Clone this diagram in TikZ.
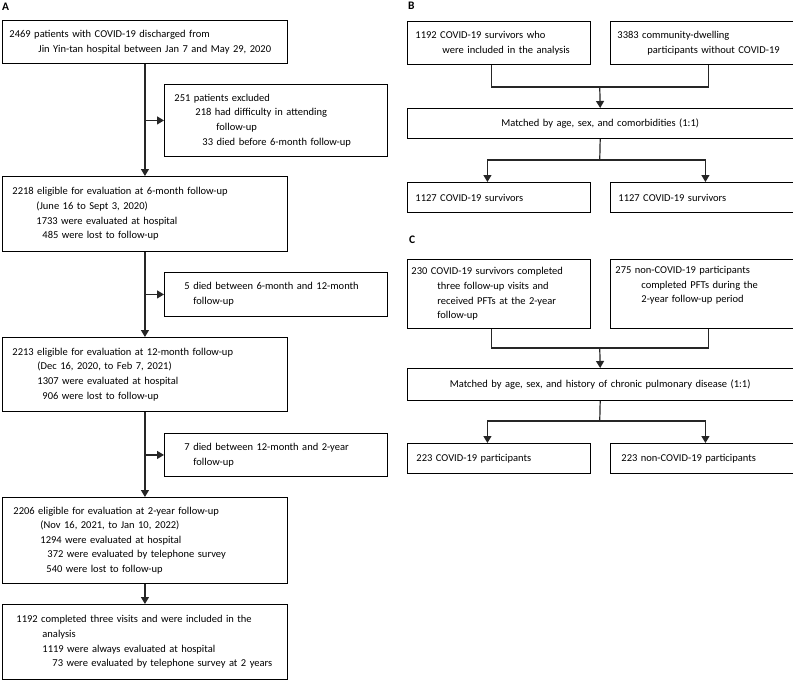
\documentclass[tikz,border=0pt]{standalone}
\usepackage{fontspec}
\setmainfont{Carlito}
\usetikzlibrary{arrows.meta}
\begin{document}
\begin{tikzpicture}[x=1pt,y=-1pt,
  box/.style={draw=black, line width=0.9pt, anchor=north west, inner xsep=0pt, inner ysep=0pt,
    align=left, font=\fontsize{10.5}{14.6}\selectfont},
  cbox/.style={draw=black, line width=0.9pt, anchor=north west, inner xsep=0pt, inner ysep=0pt,
    align=center, font=\fontsize{10.5}{14.6}\selectfont},
  line/.style={draw=black!85, line width=1.2pt},
  arr/.style={line, -{Triangle[length=7pt,width=8pt]}},
  lab/.style={anchor=north west, inner sep=0pt, font=\fontsize{11.5}{12}\selectfont\bfseries}
]
\useasboundingbox (0,0) rectangle (793,680);
\fill[white] (0,0) rectangle (793,680);

% Panel labels
\node[lab] (labA) at (2,3) {A};
\node[lab] (labB) at (408,2) {B};
\node[lab] (labC) at (409,236) {C};

% Panel A
\node[box, text width=285pt, minimum height=43pt] (a1) at (2,20)
  {\hspace*{7pt}2469 patients with COVID-19 discharged from\\
   \hspace*{36pt}Jin Yin-tan hospital between Jan 7 and May 29, 2020};
\node[box, text width=223pt, minimum height=72pt] (s1) at (164,84)
  {\hspace*{10pt}251 patients excluded\\
   \hspace*{31pt}218 had difficulty in attending\\
   \hspace*{52pt}follow-up\\
   \hspace*{38pt}33 died before 6-month follow-up};
\node[box, text width=285pt, minimum height=75pt] (a2) at (2,176)
  {\hspace*{10pt}2218 eligible for evaluation at 6-month follow-up\\
   \hspace*{34pt}(June 16 to Sept 3, 2020)\\
   \hspace*{34pt}1733 were evaluated at hospital\\
   \hspace*{40pt}485 were lost to follow-up};
\node[box, text width=223pt, minimum height=44pt] (s2) at (164,272)
  {\hspace*{20pt}5 died between 6-month and 12-month\\
   \hspace*{29pt}follow-up};
\node[box, text width=285pt, minimum height=74pt] (a3) at (2,337)
  {\hspace*{10pt}2213 eligible for evaluation at 12-month follow-up\\
   \hspace*{35pt}(Dec 16, 2020, to Feb 7, 2021)\\
   \hspace*{35pt}1307 were evaluated at hospital\\
   \hspace*{40pt}906 were lost to follow-up};
\node[box, text width=223pt, minimum height=43pt] (s3) at (164,433)
  {\hspace*{20pt}7 died between 12-month and 2-year\\
   \hspace*{29pt}follow-up};
\node[box, text width=285pt, minimum height=86pt] (a4) at (2,497)
  {\hspace*{11pt}2206 eligible for evaluation at 2-year follow-up\\
   \hspace*{38pt}(Nov 16, 2021, to Jan 10, 2022)\\
   \hspace*{38pt}1294 were evaluated at hospital\\
   \hspace*{45pt}372 were evaluated by telephone survey\\
   \hspace*{44pt}540 were lost to follow-up};
\node[box, text width=285pt, minimum height=75pt] (a5) at (2,604)
  {\hspace*{14pt}1192 completed three visits and were included in the\\
   \hspace*{40pt}analysis\\
   \hspace*{40pt}1119 were always evaluated at hospital\\
   \hspace*{50pt}73 were evaluated by telephone survey at 2 years};

\draw[arr] (a1.south) -- (a2.north);
\draw[arr] (a1.south |- s1.west) -- (s1.west);
\draw[arr] (a2.south) -- (a3.north);
\draw[arr] (a2.south |- s2.west) -- (s2.west);
\draw[arr] (a3.south) -- (a4.north);
\draw[arr] (a3.south |- s3.west) -- (s3.west);
\draw[arr] (a4.south) -- (a5.north);

% Panel B
\node[box, text width=183pt, minimum height=43pt] (b1) at (407,21)
  {\hspace*{8pt}1192 COVID-19 survivors who\\
   \hspace*{35pt}were included in the analysis};
\node[box, text width=182.5pt, minimum height=43pt] (b2) at (610,21)
  {\hspace*{7pt}3383 community-dwelling\\
   \hspace*{37pt}participants without COVID-19};
\node[cbox, text width=385.5pt, minimum height=30pt] (b3) at (407,108)
  {Matched by age, sex, and comorbidities (1:1)};
\node[box, text width=183pt, minimum height=30pt] (b4) at (407,182)
  {\hspace*{8pt}1127 COVID-19 survivors};
\node[box, text width=182.5pt, minimum height=30pt] (b5) at (610,182)
  {\hspace*{8pt}1127 COVID-19 survivors};

\coordinate (bj) at (599.75,87);
\coordinate (bk) at (599.75,160);
\draw[line] ([xshift=-7.5pt]b1.south) |- (bj) -| ([xshift=7pt]b2.south);
\draw[arr] (bj) -- (b3.north);
\draw[line] (b3.south) -- (bk);
\draw[arr] (bk) -| ([xshift=-11.5pt]b4.north);
\draw[arr] (bk) -| ([xshift=3.75pt]b5.north);

% Panel C
\node[box, text width=183pt, minimum height=69pt] (c1) at (407,259)
  {\hspace*{4pt}230 COVID-19 survivors completed\\
   \hspace*{30pt}three follow-up visits and\\
   \hspace*{30pt}received PFTs at the 2-year\\
   \hspace*{30pt}follow-up};
\node[box, text width=182.5pt, minimum height=69pt] (c2) at (610,259)
  {\hspace*{5pt}275 non-COVID-19 participants\\
   \hspace*{31pt}completed PFTs during the\\
   \hspace*{31pt}2-year follow-up period\\
   \strut};
\node[cbox, text width=385.5pt, minimum height=32pt] (c3) at (407,368)
  {Matched by age, sex, and history of chronic pulmonary disease (1:1)};
\node[box, text width=183pt, minimum height=30pt] (c4) at (407,443)
  {\hspace*{9pt}223 COVID-19 participants};
\node[box, text width=182.5pt, minimum height=30pt] (c5) at (610,443)
  {\hspace*{11pt}223 non-COVID-19 participants};

\coordinate (cj) at (599.75,348);
\coordinate (ck) at (599.75,421);
\draw[line] ([xshift=-7.5pt]c1.south) |- (cj) -| ([xshift=7pt]c2.south);
\draw[arr] (cj) -- (c3.north);
\draw[line] (c3.south) -- (ck);
\draw[arr] (ck) -| ([xshift=-11.5pt]c4.north);
\draw[arr] (ck) -| ([xshift=3.75pt]c5.north);
\end{tikzpicture}
\end{document}
